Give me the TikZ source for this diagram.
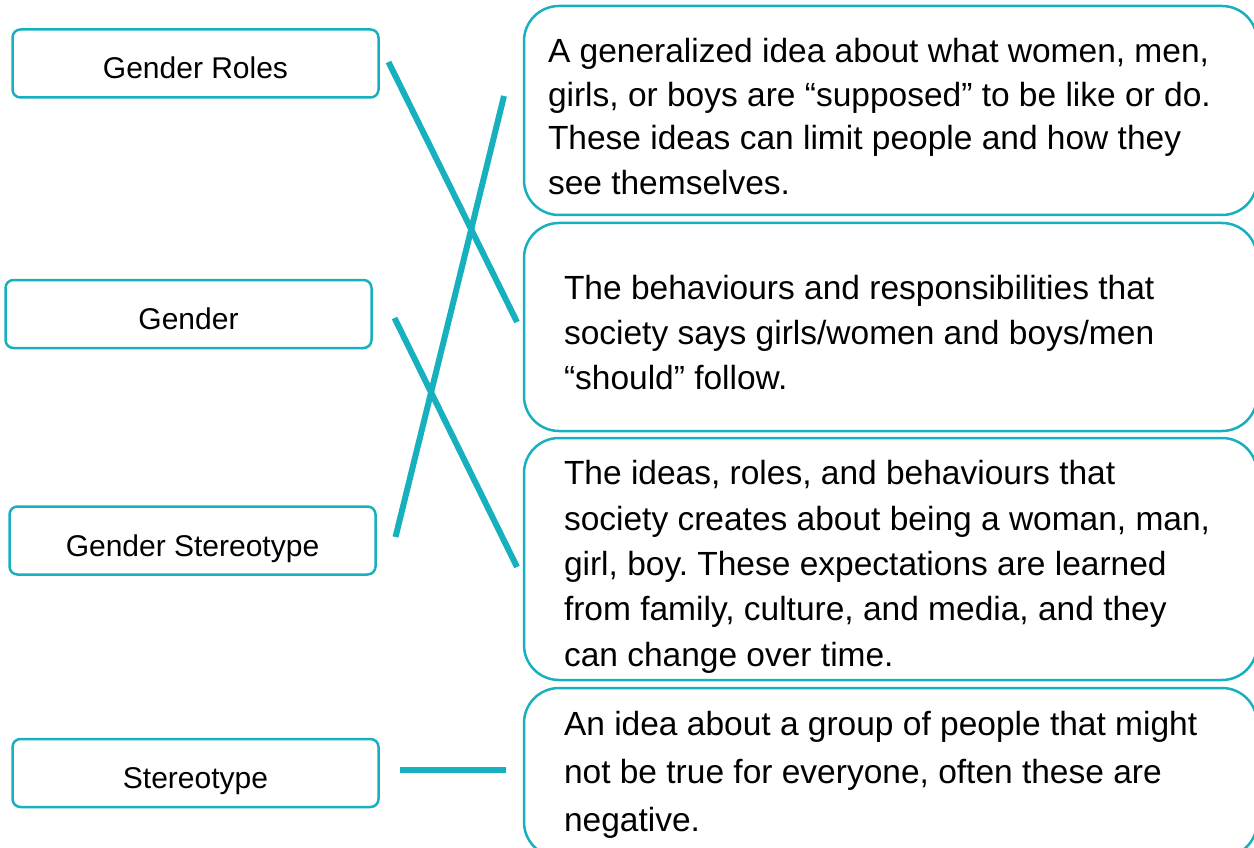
\documentclass[tikz,border=0pt]{standalone}
\usepackage{fontspec}
\setmainfont{Liberation Sans}
\frenchspacing
\definecolor{tealline}{RGB}{23,176,190}
\begin{document}
\begin{tikzpicture}[x=1pt,y=-1pt,
  leftbox/.style={draw=tealline, line width=2.5pt, rounded corners=8pt,
    minimum width=366pt, minimum height=68pt, inner sep=0pt, outer sep=0pt,
    font=\fontsize{30}{36}\selectfont, text height=32pt, text depth=1pt},
  rightbox/.style={draw=tealline, line width=2.5pt, rounded corners=35pt,
    minimum width=733pt, inner sep=0pt, outer sep=0pt},
  desc/.style={anchor=base west, inner sep=0pt, outer sep=0pt, align=left},
  conn/.style={draw=tealline, line width=6pt}]
\useasboundingbox (0,0) rectangle (1254,848);

% left terms
\node[leftbox] (roles)  at (195.5,63.5) {Gender Roles};
\node[leftbox] (gender) at (188.5,314)  {Gender};
\node[leftbox] (gst)    at (192.5,540.5){Gender Stereotype};
\node[leftbox] (st)     at (195.5,773)  {Stereotype};

% right definitions
\node[rightbox, minimum height=209pt] (d1) at (890.5,110.5) {};
\node[rightbox, minimum height=208pt] (d2) at (890.5,327) {};
\node[rightbox, minimum height=242pt] (d3) at (890.5,559) {};
\node[rightbox, minimum height=169pt] (d4) at (890.5,772.5) {};

% (anchor base = baseline of the last line)
\node[desc, font=\fontsize{33.5}{44}\selectfont] (t1) at (548,194)
  {A generalized idea about what women, men,\\girls, or boys are “supposed” to be like or do.\\These ideas can limit people and how they\\see themselves.};
\node[desc, font=\fontsize{33.5}{45}\selectfont] (t2) at (564,389)
  {The behaviours and responsibilities that\\society says girls/women and boys/men\\“should” follow.};
\node[desc, font=\fontsize{33.5}{45.3}\selectfont] (t3) at (564,666)
  {The ideas, roles, and behaviours that\\society creates about being a woman, man,\\girl, boy. These expectations are learned\\from family, culture, and media, and they\\can change over time.};
\node[desc, font=\fontsize{33.5}{48}\selectfont] (t4) at (564,831)
  {An idea about a group of people that might\\not be true for everyone, often these are\\negative.};

% connectors
\draw[conn] ([shift={(10,-1.5)}]roles.east) -- ([shift={(-7,-5)}]d2.west);
\draw[conn] ([shift={(20,-3.5)}]gst.east) -- ([shift={(-20,-14.5)}]d1.west);
\draw[conn] ([shift={(23,4)}]gender.east) -- ([shift={(-7,8)}]d3.west);
\draw[conn] ([shift={(21,-3)}]st.east) -- ([shift={(-18,-2.5)}]d4.west);
\end{tikzpicture}
\end{document}
